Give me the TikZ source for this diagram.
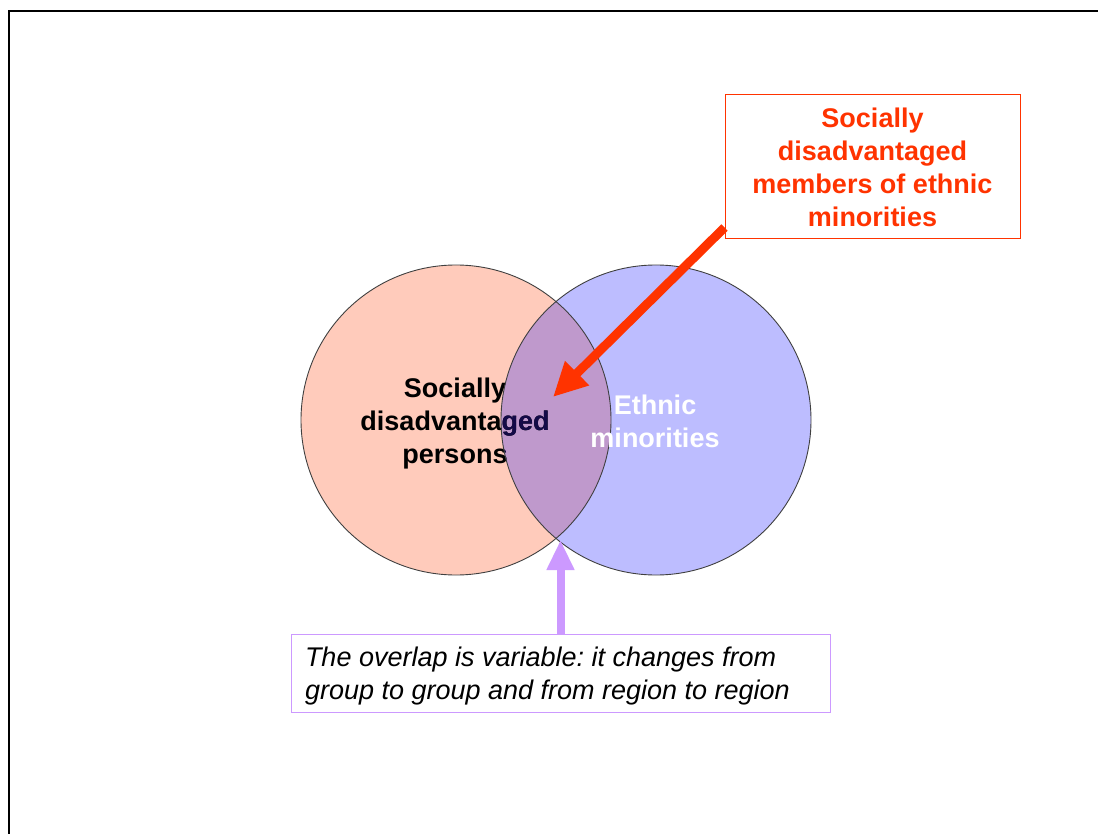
\documentclass[tikz,border=0pt]{standalone}
\usepackage{fontspec}
\setmainfont{Liberation Sans}
\usetikzlibrary{arrows.meta}
\frenchspacing

\definecolor{pinkfill}{HTML}{FFCBBB}
\definecolor{bluefill}{HTML}{BDBDFF}
\definecolor{mixfill}{HTML}{BF99CC}
\definecolor{redline}{HTML}{FF3300}
\definecolor{lilac}{HTML}{CC99FF}
\definecolor{navytext}{HTML}{140A48}
\definecolor{rimgray}{HTML}{404040}

\tikzset{
  bigtext/.style={font=\fontsize{27}{33}\selectfont\bfseries, align=center},
  setrim/.style={draw=rimgray, line width=0.9pt},
  callout/.style={draw=redline, line width=1pt, fill=white, text=redline,
    font=\fontsize{27}{33}\selectfont\bfseries, align=center,
    minimum width=295pt, minimum height=144pt, inner sep=0pt},
  notebox/.style={draw=lilac, line width=1pt, fill=white,
    font=\fontsize{27}{33}\selectfont\itshape,
    minimum width=539pt, minimum height=78pt,
    inner xsep=14pt, inner ysep=0pt},
  redarrow/.style={draw=redline, line width=9pt,
    -{Triangle[length=34pt,width=32pt]}},
  lilacarrow/.style={draw=lilac, line width=8pt,
    -{Triangle[length=30pt,width=26pt]}},
  frame/.style={draw=black, line width=2.5pt}
}

\begin{document}
\begin{tikzpicture}[x=1pt, y=-1pt]
  \useasboundingbox (0,0) rectangle (1098,834);
  \fill[white] (0,0) rectangle (1098,834);

  % page frame (top and left edges)
  \draw[frame] (8,11) -- (1098,11);
  \draw[frame] (9,11) -- (9,834);

  % the two sets
  \fill[pinkfill] (456,420) circle [radius=155pt];
  \fill[bluefill] (656,420) circle [radius=155pt];
  \begin{scope}
    \clip (456,420) circle [radius=155pt];
    \fill[mixfill] (656,420) circle [radius=155pt];
  \end{scope}

  % label of the left set, darker where it enters the right set
  \node[bigtext, text=black] (social) at (455,424)
    {Socially\\disadvantaged\\persons};
  \begin{scope}
    \clip (656,420) circle [radius=155pt];
    \node[bigtext, text=navytext] at (455,424)
      {Socially\\disadvantaged\\persons};
  \end{scope}

  % outlines
  \draw[setrim] (456,420) circle [radius=155pt];
  \draw[setrim] (656,420) circle [radius=155pt];

  \node[bigtext, text=white] (ethnic) at (655,421) {Ethnic\\minorities};

  % callout for the intersection
  \node[callout] (rbox) at (872.5,167)
    {Socially\\disadvantaged\\members of ethnic\\minorities};
  \coordinate (redtip) at (553,397);
  \draw[redarrow] ([yshift=12pt]rbox.south west) -- (redtip);

  % note on the variable overlap
  \node[notebox] (pbox) at (560.5,673)
    {\parbox{511pt}{\vspace*{6pt}The overlap is variable: it changes from\\group to group and from region to region}};
  \coordinate (liltip) at (560.5,540);
  \draw[lilacarrow] (pbox.north) -- (liltip);
\end{tikzpicture}
\end{document}
